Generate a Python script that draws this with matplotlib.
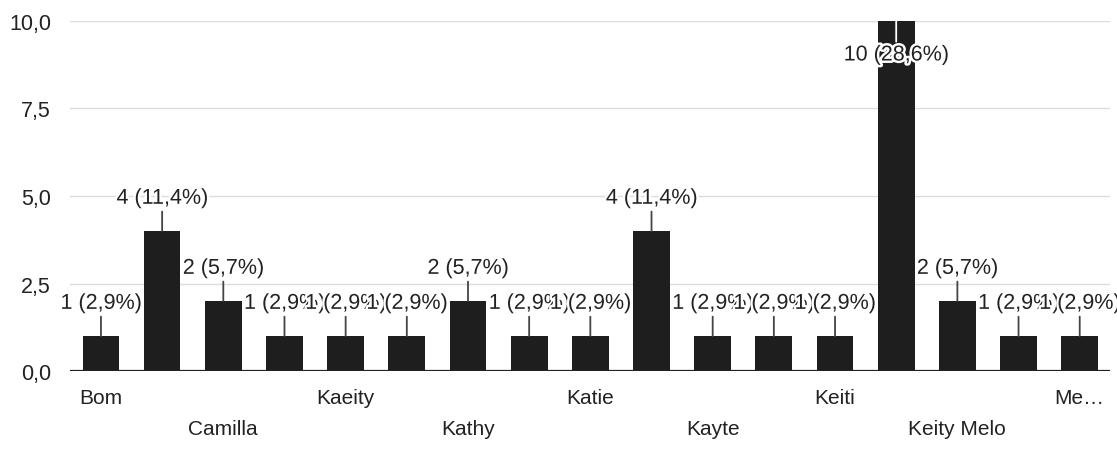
import matplotlib
matplotlib.use("Agg")
import matplotlib.pyplot as plt
import matplotlib.patheffects as pe
import numpy as np

plt.rcParams["font.family"] = ["Liberation Sans", "DejaVu Sans"]

# 17 answers; only every other name is printed on the axis, the rest are hidden
categories = ["Bom", "", "Camilla", "", "Kaeity", "", "Kathy", "", "Katie",
              "", "Kayte", "", "Keiti", "", "Keity Melo", "", "Me…"]
counts = [1, 4, 2, 1, 1, 1, 2, 1, 1, 4, 1, 1, 1, 10, 2, 1, 1]
y_ticks = [0.0, 2.5, 5.0, 7.5, 10.0]

BAR = "#1e1e1e"
GRID = "#dcdcdc"
FS = 15.5


def comma(v, fmt="{:.1f}"):
    return fmt.format(v).replace(".", ",")


def main():
    total = sum(counts)
    x = np.arange(len(counts))

    fig = plt.figure(figsize=(11.17, 4.56), dpi=100)
    ax = fig.add_axes([0.063, 0.184, 0.931, 0.768])

    ax.bar(x, counts, width=0.6, color=BAR, zorder=2)
    ax.set_xlim(-0.5, len(counts) - 0.5)
    ax.set_ylim(0, 10)

    ax.set_yticks(y_ticks)
    ax.set_yticklabels([comma(t) for t in y_ticks], fontsize=FS, color="#222")
    ax.yaxis.grid(True, color=GRID, lw=1.0, zorder=0)
    ax.axhline(0, color="#222", lw=1.6, zorder=3)
    ax.tick_params(axis="y", length=0, pad=14)
    ax.tick_params(axis="x", length=0, labelbottom=False)
    for s in ax.spines.values():
        s.set_visible(False)

    # value labels with leader lines; later labels sit on top of earlier ones
    halo = [pe.withStroke(linewidth=3.5, foreground="white")]
    for i, v in enumerate(counts):
        txt = f"{v} ({comma(v / total * 100)}%)"
        inside = v > 8.5
        off = -17 if inside else 16
        ax.annotate(txt, xy=(i, v), xytext=(0, off), textcoords="offset points",
                    ha="center", va="top" if inside else "bottom",
                    fontsize=FS, color="#222", zorder=10 + i, path_effects=halo,
                    arrowprops=dict(arrowstyle="-", lw=1.3,
                                    color="white" if inside else "#444",
                                    shrinkA=0, shrinkB=0))

    # staggered category names
    row = 0
    for i, name in enumerate(categories):
        if not name:
            continue
        ax.annotate(name, xy=(i, 0), xycoords=("data", "axes fraction"),
                    xytext=(0, -19 if row % 2 == 0 else -41),
                    textcoords="offset points", ha="center", va="center",
                    fontsize=FS - 0.5, color="#222")
        row += 1

    fig.savefig("out.png", dpi=100)
    plt.close(fig)


if __name__ == "__main__":
    main()
